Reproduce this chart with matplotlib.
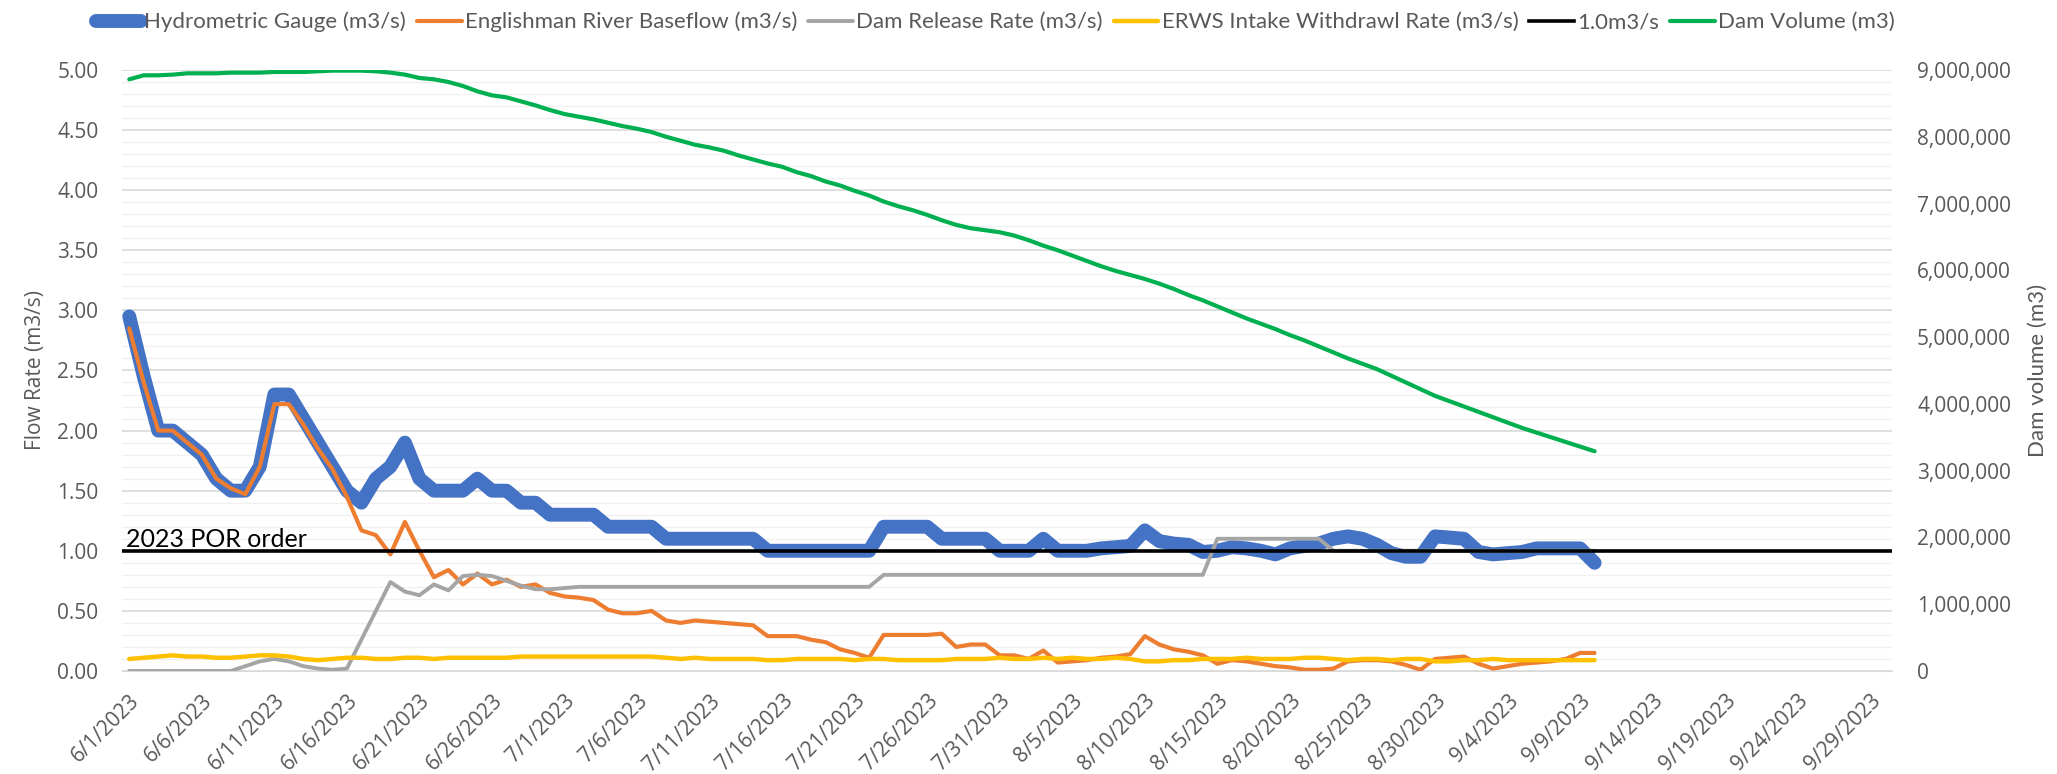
import datetime as dt
import matplotlib
matplotlib.use("Agg")
import matplotlib.pyplot as plt
import matplotlib.ticker as mticker
from matplotlib.transforms import ScaledTranslation, blended_transform_factory
import numpy as np

# ---------------- data ----------------
start_date = dt.date(2023, 6, 1)
n_days = 102  # 6/1/2023 .. 9/10/2023
dates = [start_date + dt.timedelta(days=i) for i in range(n_days)]

hydrometric_gauge = [
    2.95, 2.45, 2.0, 2.0, 1.9, 1.8, 1.6, 1.5, 1.5, 1.7,
    2.3, 2.3, 2.1, 1.9, 1.7, 1.5, 1.4, 1.6, 1.7, 1.9,
    1.6, 1.5, 1.5, 1.5, 1.6, 1.5, 1.5, 1.4, 1.4, 1.3,
    1.3, 1.3, 1.3, 1.2, 1.2, 1.2, 1.2, 1.1, 1.1, 1.1,
    1.1, 1.1, 1.1, 1.1, 1.0, 1.0, 1.0, 1.0, 1.0, 1.0,
    1.0, 1.0, 1.2, 1.2, 1.2, 1.2, 1.1, 1.1, 1.1, 1.1,
    1.0, 1.0, 1.0, 1.1, 1.0, 1.0, 1.0, 1.02, 1.03, 1.04,
    1.17, 1.08, 1.06, 1.05, 0.99, 1.0, 1.03, 1.02, 1.0, 0.97,
    1.02, 1.04, 1.06, 1.1, 1.12, 1.1, 1.05, 0.98, 0.95, 0.95,
    1.12, 1.11, 1.1, 0.99, 0.97, 0.98, 0.99, 1.02, 1.02, 1.02,
    1.02, 0.9,
]

baseflow = [
    2.85, 2.4, 2.0, 2.0, 1.9, 1.8, 1.6, 1.52, 1.47, 1.7,
    2.22, 2.22, 2.05, 1.85, 1.68, 1.45, 1.17, 1.13, 0.97, 1.24,
    1.0, 0.78, 0.84, 0.72, 0.81, 0.72, 0.76, 0.70, 0.72, 0.65,
    0.62, 0.61, 0.59, 0.51, 0.48, 0.48, 0.50, 0.42, 0.40, 0.42,
    0.41, 0.40, 0.39, 0.38, 0.29, 0.29, 0.29, 0.26, 0.24, 0.18,
    0.15, 0.11, 0.30, 0.30, 0.30, 0.30, 0.31, 0.20, 0.22, 0.22,
    0.13, 0.13, 0.10, 0.17, 0.07, 0.08, 0.09, 0.11, 0.12, 0.14,
    0.29, 0.22, 0.18, 0.16, 0.13, 0.06, 0.09, 0.08, 0.06, 0.04,
    0.03, 0.01, 0.01, 0.02, 0.08, 0.09, 0.09, 0.08, 0.05, 0.01,
    0.10, 0.11, 0.12, 0.06, 0.02, 0.04, 0.06, 0.07, 0.08, 0.10,
    0.15, 0.15,
]

dam_release = [
    0.0, 0.0, 0.0, 0.0, 0.0, 0.0, 0.0, 0.0, 0.04, 0.08,
    0.10, 0.08, 0.04, 0.02, 0.01, 0.02, 0.26, 0.50, 0.74, 0.66,
    0.63, 0.72, 0.67, 0.79, 0.80, 0.79, 0.75, 0.71, 0.68, 0.68,
    0.69, 0.70, 0.70, 0.70, 0.70, 0.70, 0.70, 0.70, 0.70, 0.70,
    0.70, 0.70, 0.70, 0.70, 0.70, 0.70, 0.70, 0.70, 0.70, 0.70,
    0.70, 0.70, 0.80, 0.80, 0.80, 0.80, 0.80, 0.80, 0.80, 0.80,
    0.80, 0.80, 0.80, 0.80, 0.80, 0.80, 0.80, 0.80, 0.80, 0.80,
    0.80, 0.80, 0.80, 0.80, 0.80, 1.10, 1.10, 1.10, 1.10, 1.10,
    1.10, 1.10, 1.10, 1.00, 1.00, 1.00, 1.00, 1.00, 1.00, 1.00,
    1.00, 1.00, 1.00, 1.00, 1.00, 1.00, 1.00, 1.00, 1.00, 1.00,
    1.00, 1.00,
]

intake_withdrawal = [
    0.10, 0.11, 0.12, 0.13, 0.12, 0.12, 0.11, 0.11, 0.12, 0.13,
    0.13, 0.12, 0.10, 0.09, 0.10, 0.11, 0.11, 0.10, 0.10, 0.11,
    0.11, 0.10, 0.11, 0.11, 0.11, 0.11, 0.11, 0.12, 0.12, 0.12,
    0.12, 0.12, 0.12, 0.12, 0.12, 0.12, 0.12, 0.11, 0.10, 0.11,
    0.10, 0.10, 0.10, 0.10, 0.09, 0.09, 0.10, 0.10, 0.10, 0.10,
    0.09, 0.10, 0.10, 0.09, 0.09, 0.09, 0.09, 0.10, 0.10, 0.10,
    0.11, 0.10, 0.10, 0.11, 0.10, 0.11, 0.10, 0.10, 0.11, 0.10,
    0.08, 0.08, 0.09, 0.09, 0.10, 0.10, 0.10, 0.11, 0.10, 0.10,
    0.10, 0.11, 0.11, 0.10, 0.09, 0.10, 0.10, 0.09, 0.10, 0.10,
    0.08, 0.08, 0.09, 0.09, 0.10, 0.09, 0.09, 0.09, 0.09, 0.09,
    0.09, 0.09,
]

dam_volume_millions = [
    8.86, 8.92, 8.92, 8.93, 8.95, 8.95, 8.95, 8.96, 8.96, 8.96,
    8.97, 8.97, 8.97, 8.98, 8.99, 8.99, 8.99, 8.98, 8.96, 8.93,
    8.88, 8.86, 8.82, 8.76, 8.68, 8.62, 8.59, 8.53, 8.47, 8.40,
    8.34, 8.30, 8.26, 8.21, 8.16, 8.12, 8.07, 8.00, 7.94, 7.88,
    7.84, 7.79, 7.72, 7.66, 7.60, 7.55, 7.47, 7.41, 7.33, 7.27,
    7.19, 7.12, 7.03, 6.96, 6.90, 6.83, 6.75, 6.68, 6.63, 6.60,
    6.57, 6.52, 6.45, 6.37, 6.30, 6.22, 6.14, 6.06, 5.99, 5.93,
    5.87, 5.80, 5.72, 5.63, 5.55, 5.46, 5.37, 5.28, 5.20, 5.12,
    5.03, 4.95, 4.86, 4.77, 4.68, 4.60, 4.52, 4.42, 4.32, 4.22,
    4.12, 4.04, 3.96, 3.88, 3.80, 3.72, 3.64, 3.57, 3.50, 3.43,
    3.36, 3.29,
]
dam_volume = [v * 1e6 for v in dam_volume_millions]

por_order_level = 1.0

series_labels = [
    "Hydrometric Gauge (m3/s)",
    "Englishman River Baseflow (m3/s)",
    "Dam Release Rate (m3/s)",
    "ERWS Intake Withdrawl Rate (m3/s)",
    "1.0m3/s",
    "Dam Volume (m3)",
]

axis_start = dt.datetime(2023, 5, 31, 12)
axis_end = dt.datetime(2023, 9, 30, 12)
tick_dates = [start_date + dt.timedelta(days=5 * k) for k in range(25)]
tick_labels = [f"{d.month}/{d.day}/{d.year}" for d in tick_dates]

# ---------------- style ----------------
TICK_FONT = ["Open Sans", "DejaVu Sans"]
LEG_FONT = ["Lato", "DejaVu Sans"]
GREY_TXT = "#595959"

fig = plt.figure(figsize=(20.57, 7.74), dpi=100)
ax = fig.add_axes([0.0593, 0.1331, 0.8605, 0.7765])
ax2 = ax.twinx()

l1, = ax.plot(dates, hydrometric_gauge, color="#4472C4", lw=10,
              solid_joinstyle="round", solid_capstyle="round", zorder=3)
l2, = ax.plot(dates, baseflow, color="#ED7D31", lw=3,
              solid_joinstyle="round", solid_capstyle="round", zorder=4)
l3, = ax.plot(dates, dam_release, color="#A5A5A5", lw=2.8,
              solid_joinstyle="round", solid_capstyle="round", zorder=5)
l4, = ax.plot(dates, intake_withdrawal, color="#FFC000", lw=3.2,
              solid_joinstyle="round", solid_capstyle="round", zorder=6)
l5 = ax.axhline(por_order_level, color="black", lw=2.6, zorder=7)
l6, = ax2.plot(dates, dam_volume, color="#00B050", lw=3,
               solid_joinstyle="round", solid_capstyle="round", zorder=8)

ax.set_xlim(axis_start, axis_end)
ax.set_ylim(0, 5)
ax2.set_ylim(0, 9e6)

ax.set_yticks(np.arange(0, 5.01, 0.5))
ax.set_yticks(np.arange(0, 5.01, 0.1), minor=True)
ax.yaxis.set_major_formatter(mticker.FormatStrFormatter("%.2f"))
ax.grid(which="minor", axis="y", color="#F0F0F0", lw=1.0)
ax.grid(which="major", axis="y", color="#D9D9D9", lw=1.2)
ax.set_axisbelow(True)

ax2.set_yticks(np.arange(0, 9e6 + 1, 1e6))
ax2.yaxis.set_major_formatter(mticker.FuncFormatter(lambda v, p: f"{int(round(v)):,}"))

ax.set_xticks(tick_dates)
ax.set_xticklabels(tick_labels, rotation=45, ha="right", va="top",
                   rotation_mode="anchor")
offset = ScaledTranslation(6 / 100, 0, fig.dpi_scale_trans)
for lab in ax.get_xticklabels():
    lab.set_transform(lab.get_transform() + offset)

for a in (ax, ax2):
    for s in a.spines.values():
        s.set_visible(False)
    a.tick_params(length=0, which="both")
ax.spines["bottom"].set_visible(True)
ax.spines["bottom"].set_color("#D9D9D9")

ax.tick_params(axis="y", pad=17, labelsize=15, labelcolor=GREY_TXT)
ax.tick_params(axis="x", pad=14, labelsize=15, labelcolor=GREY_TXT)
ax2.tick_params(axis="y", pad=18, labelsize=15, labelcolor=GREY_TXT)
for lab in ax.get_xticklabels() + ax.get_yticklabels() + ax2.get_yticklabels():
    lab.set_family(TICK_FONT)

ax.set_ylabel("Flow Rate (m3/s)", fontsize=15, color=GREY_TXT,
              family=TICK_FONT, labelpad=8)
ax2.set_ylabel("Dam volume (m3)", fontsize=16, color=GREY_TXT,
               family=LEG_FONT, labelpad=12)

trans = blended_transform_factory(ax.transAxes, ax.transData)
ax.text(0.002, por_order_level + 0.03, "2023 POR order", transform=trans,
        ha="left", va="baseline", fontsize=18, color="black",
        family=LEG_FONT, zorder=9)

fig.legend([l1, l2, l3, l4, l5, l6], series_labels, loc="center",
           bbox_to_anchor=(0.484, 0.9716), ncol=6, frameon=False,
           prop={"family": LEG_FONT, "size": 16},
           labelcolor=GREY_TXT, handlelength=2.0, handletextpad=0.15,
           columnspacing=0.5)

fig.savefig("out.png", dpi=100, facecolor="white")
